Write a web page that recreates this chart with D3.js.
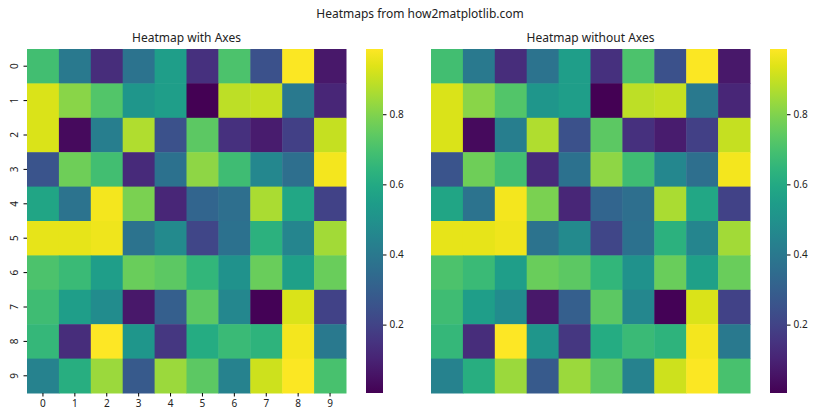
<!DOCTYPE html>
<html><head><meta charset="utf-8">
<script src="https://cdn.jsdelivr.net/npm/d3@7"></script>
<style>body{margin:0;background:#fff}svg{display:block}text{font-family:"Noto Sans","DejaVu Sans",sans-serif;fill:#222}</style>
</head><body><svg id="c" width="840" height="420"></svg>
<script>
const rowLabels = ["0","1","2","3","4","5","6","7","8","9"];
const colLabels = ["0","1","2","3","4","5","6","7","8","9"];
const row0 = [0.69,0.40,0.13,0.38,0.55,0.14,0.71,0.25,0.98,0.07];
const row1 = [0.93,0.81,0.72,0.52,0.55,0.005,0.89,0.90,0.40,0.11];
const row2 = [0.93,0.03,0.42,0.87,0.25,0.74,0.14,0.08,0.19,0.90];
const row3 = [0.26,0.77,0.69,0.12,0.37,0.82,0.68,0.46,0.36,0.97];
const row4 = [0.58,0.38,0.97,0.79,0.11,0.32,0.36,0.86,0.59,0.20];
const row5 = [0.95,0.95,0.96,0.38,0.47,0.21,0.37,0.63,0.45,0.85];
const row6 = [0.71,0.67,0.55,0.76,0.74,0.65,0.50,0.76,0.56,0.76];
const row7 = [0.68,0.55,0.48,0.07,0.30,0.74,0.46,0.01,0.93,0.20];
const row8 = [0.66,0.13,0.986,0.52,0.16,0.61,0.67,0.64,0.97,0.40];
const row9 = [0.44,0.62,0.84,0.28,0.84,0.74,0.44,0.91,0.98,0.70];
const rows = [row0,row1,row2,row3,row4,row5,row6,row7,row8,row9];
const cbTicks = [0.2,0.4,0.6,0.8];
const titles = ["Heatmap with Axes","Heatmap without Axes"];

const svg = d3.select("#c");
const all = rows.flat();
const vmin = d3.min(all), vmax = d3.max(all);
const color = d3.scaleSequential(d3.interpolateViridis).domain([vmin,vmax]);

svg.append("text").attr("x",420).attr("y",18).attr("text-anchor","middle")
  .style("font-size","12px").text("Heatmaps from how2matplotlib.com");

const panels = [
  {x0:27,x1:346,cb0:366,cb1:383,axes:true},
  {x0:431,x1:750,cb0:770,cb1:787,axes:false}
];
const y0 = 49, y1 = 393;

const defs = svg.append("defs");
const grad = defs.append("linearGradient").attr("id","vg").attr("x1",0).attr("y1",1).attr("x2",0).attr("y2",0);
d3.range(0,1.0001,0.05).forEach(t=>grad.append("stop").attr("offset",t).attr("stop-color",d3.interpolateViridis(t)));

panels.forEach((p,pi)=>{
  const x = d3.scaleBand().domain(colLabels).range([p.x0,p.x1]);
  const y = d3.scaleBand().domain(rowLabels).range([y0,y1]);
  const g = svg.append("g");
  rows.forEach((r,ri)=>{
    g.selectAll(null).data(r).enter().append("rect")
      .attr("x",(d,ci)=>x(colLabels[ci]))
      .attr("y",y(rowLabels[ri]))
      .attr("width",x.bandwidth()+0.5)
      .attr("height",y.bandwidth()+0.5)
      .attr("fill",d=>color(d));
  });
  svg.append("text").attr("x",(p.x0+p.x1)/2).attr("y",42).attr("text-anchor","middle")
    .style("font-size","12px").text(titles[pi]);
  if(p.axes){
    const xa = svg.append("g").attr("transform",`translate(0,${y1})`)
      .call(d3.axisBottom(x).tickSize(3.5).tickPadding(3));
    xa.select(".domain").remove();
    xa.selectAll("text").style("font-size","10px").attr("fill","#222");
    const ya = svg.append("g").attr("transform",`translate(${p.x0},0)`)
      .call(d3.axisLeft(y).tickSize(3.5).tickPadding(3));
    ya.select(".domain").remove();
    ya.selectAll("text").style("font-size","10px").attr("fill","#222")
      .attr("text-anchor","middle").attr("dy",0)
      .attr("transform",function(){return null;})
      .each(function(){
        const t = d3.select(this);
        t.attr("x",null);
        t.attr("transform","translate(-13,0) rotate(-90)").attr("dy","0.35em");
      });
  }
  // colorbar
  const cs = d3.scaleLinear().domain([vmin,vmax]).range([y1,y0]);
  svg.append("rect").attr("x",p.cb0).attr("y",y0).attr("width",p.cb1-p.cb0).attr("height",y1-y0).attr("fill","url(#vg)");
  const ca = svg.append("g").attr("transform",`translate(${p.cb1},0)`)
    .call(d3.axisRight(cs).tickValues(cbTicks).tickFormat(d3.format(".1f")).tickSize(3.5).tickPadding(3));
  ca.select(".domain").remove();
  ca.selectAll("text").style("font-size","10px").attr("fill","#222");
});
</script></body></html>
